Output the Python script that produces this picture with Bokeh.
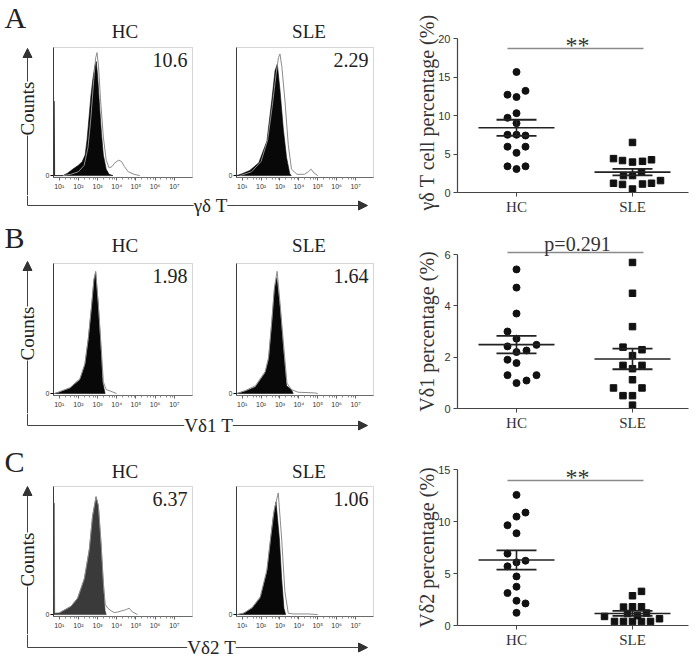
import numpy as np
from bokeh.plotting import figure
from bokeh.layouts import row, column
from bokeh.models import Range1d, Label, Arrow, NormalHead, FixedTicker, BoxAnnotation
from bokeh.embed import file_html
from bokeh.resources import INLINE

# ---------------- data ----------------
panel_letters = ["A", "B", "C"]
channel_names = ["γδ T", "Vδ1 T", "Vδ2 T"]
group_names = ["HC", "SLE"]
gate_percent = [["10.6", "2.29"], ["1.98", "1.64"], ["6.37", "1.06"]]
decade_exp = [1, 2, 3, 4, 5, 6, 7]
decade_labels = ["10¹", "10²", "10³", "10⁴", "10⁵", "10⁶", "10⁷"]

# flow histograms: x = log10 fluorescence, y = % of panel height
a_hc_fill_log = [0.70, 0.70, 0.74, 0.76, 1.2, 1.45, 1.7, 2.0, 2.2, 2.35, 2.45, 2.55, 2.65, 2.75, 2.85, 2.93, 3.0, 3.1, 3.2, 3.3, 3.45, 3.6, 3.8]
a_hc_fill_h = [0, 58, 58, 0, 0, 2, 5, 8, 11, 16, 28, 45, 62, 75, 85, 89, 78, 55, 33, 16, 5, 1, 0]
a_hc_line_log = [1.2, 1.6, 2.0, 2.3, 2.5, 2.65, 2.8, 2.9, 2.97, 3.05, 3.15, 3.3, 3.45, 3.6, 3.75, 3.9, 4.1, 4.25, 4.4, 4.6, 4.9, 5.2]
a_hc_line_h = [0, 1, 3, 8, 22, 45, 75, 92, 96, 85, 60, 30, 12, 6, 7, 10, 12, 11, 7, 3, 1, 0]

a_sle_fill_log = [0.72, 1.0, 1.4, 1.88, 2.31, 2.57, 2.74, 2.86, 3.0, 3.18, 3.35, 3.52, 3.6]
a_sle_fill_h = [0, 1.5, 4, 10, 27, 59, 82, 87, 67, 36, 14, 1.5, 0]
a_sle_line_log = [0.9, 1.5, 2.0, 2.35, 2.6, 2.8, 2.92, 3.0, 3.1, 3.26, 3.44, 3.61, 3.9, 4.3, 4.5, 4.65, 4.8, 5.0]
a_sle_line_h = [0, 3, 11, 28, 55, 80, 92, 95, 85, 59, 24, 5, 1, 1, 3, 5, 2, 0]

b_hc_fill_log = [0.75, 1.0, 1.56, 2.08, 2.34, 2.52, 2.69, 2.81, 2.9, 3.04, 3.16, 3.26, 3.39]
b_hc_fill_h = [0, 1, 4, 10.6, 22, 42, 67, 87, 93, 67, 37, 9, 0]
b_hc_line_log = [0.75, 1.56, 2.08, 2.34, 2.52, 2.69, 2.81, 2.9, 3.04, 3.18, 3.3, 3.45, 3.65, 3.99]
b_hc_line_h = [0, 4.5, 11.5, 23, 43, 68, 88, 94, 68, 37, 9, 3, 2, 0]

b_sle_fill_log = [0.72, 1.2, 1.7, 2.22, 2.4, 2.57, 2.71, 2.83, 3.0, 3.18, 3.35, 3.61, 3.7]
b_sle_fill_h = [0, 2, 5, 16, 26, 54, 80, 89, 67, 34, 6, 3, 0]
b_sle_line_log = [0.72, 1.2, 1.7, 2.22, 2.4, 2.57, 2.71, 2.85, 3.0, 3.2, 3.37, 3.61, 3.96, 4.83, 5.0]
b_sle_line_h = [0, 2.5, 6, 17, 28, 56, 82, 94, 70, 36, 8, 3, 1, 0.5, 0]

c_hc_fill_log = [0.70, 0.70, 0.74, 0.76, 1.0, 1.61, 1.96, 2.31, 2.57, 2.74, 2.92, 3.04, 3.18, 3.3, 3.39, 3.45]
c_hc_fill_h = [0, 87, 87, 1, 1.3, 6.4, 12.8, 28, 51, 77, 92, 85, 54, 23, 3, 0]
c_hc_line_log = [1.0, 1.61, 1.96, 2.31, 2.57, 2.74, 2.92, 3.04, 3.18, 3.3, 3.4, 3.53, 3.7, 3.87, 4.05, 4.23, 4.4, 4.5, 4.65, 4.82, 5.08]
c_hc_line_h = [1.3, 6.4, 12.8, 28, 51, 77, 92, 85, 56, 25, 8, 5, 3, 1.5, 2, 2.8, 3.5, 4, 5, 2, 0]

c_sle_fill_log = [0.75, 1.09, 1.53, 1.96, 2.31, 2.51, 2.65, 2.79, 2.97, 3.09, 3.21, 3.3]
c_sle_fill_h = [0, 1, 5, 13, 33, 59, 77, 88, 59, 28, 5, 0]
c_sle_line_log = [0.75, 1.09, 1.53, 1.96, 2.31, 2.51, 2.7, 2.91, 3.09, 3.26, 3.44, 3.7, 4.5, 5.0]
c_sle_line_h = [0, 1.2, 5.5, 14, 35, 60, 82, 95, 59, 18, 1, 0.5, 0.5, 0]

# dot plot values, %
a_hc_vals = [15.65, 13.2, 12.7, 12.4, 10.3, 9.7, 9.0, 7.5, 7.5, 7.4, 5.95, 5.95, 5.15, 3.4, 3.4, 3.05]
a_sle_vals = [6.5, 4.4, 4.15, 3.95, 4.05, 4.25, 2.65, 2.2, 2.2, 1.2, 1.05, 1.1, 1.2, 1.55, 0.45]
b_hc_vals = [5.42, 4.71, 3.7, 3.0, 2.72, 2.42, 2.48, 2.2, 2.26, 1.9, 1.77, 1.3, 1.3, 0.99, 1.09]
b_sle_vals = [5.69, 4.49, 3.19, 2.39, 2.29, 2.06, 1.68, 1.68, 1.55, 1.12, 0.8, 0.8, 0.5, 0.5, 0.13]
c_hc_vals = [12.56, 10.86, 10.47, 9.64, 8.87, 6.91, 6.07, 6.23, 5.69, 4.72, 3.73, 3.12, 2.38, 2.12, 1.22]
c_sle_vals = [3.28, 2.86, 1.77, 1.8, 1.8, 1.15, 0.95, 1.2, 0.87, 0.39, 0.39, 0.39, 0.39, 0.39, 0.65]

group_means = [[8.4, 2.65], [2.49, 1.93], [6.3, 1.16]]
group_sems = [[1.05, 0.43], [0.34, 0.40], [0.93, 0.24]]
y_max = [20, 6, 15]
y_ticks = [[0, 5, 10, 15, 20], [0, 2, 4, 6], [0, 5, 10, 15]]
y_titles = ["γδ T cell percentage (%)", "Vδ1 percentage (%)", "Vδ2 percentage (%)"]
sig_levels = [18.7, 6.08, 13.94]
sig_texts = ["**", "p=0.291", "**"]

# ---------------- layout / style ----------------
SERIF = "Liberation Serif"
SANS = "Liberation Sans"
ROW_H = [216, 223, 219]
BOX_TOP = 47
BOX_BOT = [177, 179, 177]
H_BOT = 18
ARROW_FROM_TOP = [205, 209, 208]
COUNTS_X = 27
ARROW_TIP_X = 367
COUNTS_TIP = [48, 45, 47]
COUNTS_MID = [108, 117, 120]
LETTER_TOP = [3, 7, 8]
TITLE_MID = [31, 29, 32]
XLABEL_X = [210, 208, 211]
HC_W, HC_BL, HC_BW = 228, 53, 139
SLE_W, SLE_BL, SLE_BW = 160, 8, 137
LO, HI = 0.7, 7.95
SC_W, SC_AX, SC_FW = 303, 69, 231
SC_ZERO = [192, 192, 186]
SC_TOP = [38, 38, 30]
YLAB_X = 38
YLAB_MID = [112, 115, 108]
PX_PER_CAT = 116.0
HC_CENTER_PX = 59.0

a_hc_dx = [0, 9, -9, 0, 0, -9, 0, -9, 0, 9, -9, 9, 0, -9, 9, 0]
a_sle_dx = [0, -19, -10, 0, 10, 19, 9, -9, 0, -19, -10, 10, 19, 28, 0]
b_hc_dx = [0, 0, 0, -9, 0, -9, 20, 0, 10, -9, 0, -9, 20, 0, 10]
b_sle_dx = [0, 0, 0, -9.5, 9.5, 0, -9.5, 9.5, 0, 0, -19, 9.5, -9.5, 0, 0]
c_hc_dx = [0, 9, 0, -9, 0, -9, 0, 9, -9, 0, 0, -9, 0, 9, 0]
c_sle_dx = [9, 0, -9, 0, 9, -5, 5, 14, -28, -18, -9, 0, 9, 18, 27]

hist_sets = [
    [(a_hc_fill_log, a_hc_fill_h, a_hc_line_log, a_hc_line_h, "#080808"),
     (a_sle_fill_log, a_sle_fill_h, a_sle_line_log, a_sle_line_h, "#080808")],
    [(b_hc_fill_log, b_hc_fill_h, b_hc_line_log, b_hc_line_h, "#080808"),
     (b_sle_fill_log, b_sle_fill_h, b_sle_line_log, b_sle_line_h, "#080808")],
    [(c_hc_fill_log, c_hc_fill_h, c_hc_line_log, c_hc_line_h, "#3a3a3a"),
     (c_sle_fill_log, c_sle_fill_h, c_sle_line_log, c_sle_line_h, "#080808")],
]
scatter_sets = [
    (a_hc_vals, a_hc_dx, a_sle_vals, a_sle_dx),
    (b_hc_vals, b_hc_dx, b_sle_vals, b_sle_dx),
    (c_hc_vals, c_hc_dx, c_sle_vals, c_sle_dx),
]


def base_fig(w, h, xr, yr, **kw):
    p = figure(width=w, height=h, x_range=xr, y_range=yr, title=None,
               output_backend="svg", toolbar_location=None,
               min_border=0, min_border_left=0, min_border_right=0,
               min_border_top=0, min_border_bottom=0, outline_line_color=None, **kw)
    p.grid.visible = False
    return p


def slabel(x, y, text, size, color="#222", **kw):
    return Label(x=x, y=y, x_units="screen", y_units="screen", text=text, text_font=SERIF,
                 text_font_size=size, text_color=color, **kw)


def style_axis(a, font, size, color="#333"):
    a.major_label_text_font = font
    a.major_label_text_font_size = size
    a.major_label_text_color = color
    a.major_tick_in = 0
    a.minor_tick_line_color = None


def hist_fig(k, j):
    fill_log, fill_h, line_log, line_h, fcol = hist_sets[k][j]
    w, bl, bw = (HC_W, HC_BL, HC_BW) if j == 0 else (SLE_W, SLE_BL, SLE_BW)
    br = w - bl - bw
    h = BOX_BOT[k] + H_BOT
    bh = BOX_BOT[k] - BOX_TOP
    ppd = bw / (HI - LO)
    ppy = bh / 101.5
    xr = Range1d(10 ** (LO - bl / ppd), 10 ** (HI + br / ppd))
    yr = Range1d(-1.5 - H_BOT / ppy, 100 + BOX_TOP / ppy)
    p = base_fig(w, h, xr, yr, x_axis_type="log")
    p.add_layout(BoxAnnotation(left=10 ** LO, right=10 ** HI, bottom=-1.5, top=100,
                               fill_color=None, line_color="#777", line_width=1))
    p.patch(np.power(10.0, fill_log), fill_h, fill_color=fcol, line_color=fcol, line_width=0.6)
    p.line(np.power(10.0, line_log), line_h, line_color="#8c8c8c", line_width=1)
    majors = [10.0 ** e for e in decade_exp]
    minors = [m * 10.0 ** e for e in decade_exp[:-1] for m in (2, 4, 6, 8)]
    ax = p.xaxis[0]
    ax.fixed_location = -1.5
    ax.bounds = (10 ** LO, 10 ** HI)
    ax.ticker = FixedTicker(ticks=majors, minor_ticks=minors)
    ax.major_label_overrides = {t: lab for t, lab in zip(majors, decade_labels)}
    style_axis(ax, SANS, "7px")
    ax.major_label_standoff = 2
    ax.major_tick_out = 3
    ax.minor_tick_out = 2
    ax.minor_tick_in = 0
    ax.minor_tick_line_color = "#888"
    ax.axis_line_color = "#666"
    ax.major_tick_line_color = "#666"
    ay = p.yaxis[0]
    ay.fixed_location = 10 ** LO
    ay.bounds = (-1.5, 100)
    ay.ticker = FixedTicker(ticks=[0])
    style_axis(ay, SANS, "7px")
    ay.major_label_standoff = 1
    ay.major_tick_out = 3
    ay.axis_line_color = "#222"
    # texts
    p.add_layout(slabel(bl + bw / 2 + (2 if j == 0 else 4), h - TITLE_MID[k], group_names[j], "19px",
                        text_align="center", text_baseline="middle"))
    p.add_layout(slabel(bl + bw - 5, h - BOX_TOP - 5, gate_percent[k][j], "20px",
                        text_align="right", text_baseline="top"))
    if j == 0:
        p.add_layout(Arrow(x_start=COUNTS_X, y_start=0, x_end=COUNTS_X, y_end=h - COUNTS_TIP[k],
                           start_units="screen", end_units="screen", line_color="#444", line_width=1,
                           end=NormalHead(size=9, fill_color="#333", line_color="#333")))
        p.add_layout(slabel(COUNTS_X, h - COUNTS_MID[k], "Counts", "19px", angle=np.pi / 2,
                            text_align="center", text_baseline="middle", background_fill_color="white"))
        p.add_layout(slabel(4, h - LETTER_TOP[k] + 3, panel_letters[k], "30px", text_baseline="top"))
    return p


def xarrow_fig(k):
    h = ROW_H[k] - BOX_BOT[k] - H_BOT
    w = HC_W + SLE_W
    p = base_fig(w, h, Range1d(0, 1), Range1d(0, 1), x_axis_location=None, y_axis_location=None)
    ya = ROW_H[k] - ARROW_FROM_TOP[k]
    p.add_layout(Arrow(x_start=COUNTS_X, y_start=h, x_end=COUNTS_X, y_end=ya, start_units="screen",
                       end_units="screen", line_color="#444", line_width=1, end=None))
    p.add_layout(Arrow(x_start=COUNTS_X, y_start=ya, x_end=ARROW_TIP_X, y_end=ya, start_units="screen",
                       end_units="screen", line_color="#444", line_width=1,
                       end=NormalHead(size=9, fill_color="#333", line_color="#333")))
    p.add_layout(slabel(XLABEL_X[k], ya, channel_names[k], "19px", text_align="center",
                        text_baseline="middle", background_fill_color="white"))
    return p


def scatter_fig(k):
    hc_vals, hc_dx, sle_vals, sle_dx = scatter_sets[k]
    h = ROW_H[k]
    ax0 = -HC_CENTER_PX / PX_PER_CAT
    xr = Range1d(ax0 - SC_AX / PX_PER_CAT, ax0 + (SC_W - SC_AX) / PX_PER_CAT)
    ppy = (SC_ZERO[k] - SC_TOP[k]) / float(y_max[k])
    yr = Range1d(-(h - SC_ZERO[k]) / ppy, y_max[k] + SC_TOP[k] / ppy)
    p = base_fig(SC_W, h, xr, yr)
    p.line([-9 / PX_PER_CAT, 127 / PX_PER_CAT], [sig_levels[k], sig_levels[k]],
           line_color="#8a8a8a", line_width=1.6)
    p.add_layout(Label(x=61 / PX_PER_CAT, y=sig_levels[k], y_offset=8 if k == 1 else 4,
                       text=sig_texts[k], text_align="center", text_baseline="alphabetic",
                       text_font=SERIF, text_font_size="20px" if k == 1 else "24px", text_color="#333"))
    p.scatter(x=np.array(hc_dx) / PX_PER_CAT, y=hc_vals, marker="circle", size=7,
              fill_color="#111", line_color="#111")
    p.scatter(x=1 + np.array(sle_dx) / PX_PER_CAT, y=sle_vals, marker="square", size=6.5,
              fill_color="#111", line_color="#111")
    cats = np.array([0.0, 1.0])
    m = np.array(group_means[k])
    s = np.array(group_sems[k])
    half_mean = 38 / PX_PER_CAT
    half_sem = 20 / PX_PER_CAT
    p.segment(cats - half_mean, m, cats + half_mean, m, line_color="#222", line_width=1.6)
    p.segment(cats - half_sem, m + s, cats + half_sem, m + s, line_color="#222", line_width=1.8)
    p.segment(cats - half_sem, m - s, cats + half_sem, m - s, line_color="#222", line_width=1.8)
    p.segment(cats, m - s, cats, m + s, line_color="#222", line_width=1.6)
    ay = p.yaxis[0]
    ay.fixed_location = ax0
    ay.bounds = (0, y_max[k])
    ay.ticker = FixedTicker(ticks=y_ticks[k])
    style_axis(ay, SANS, "11px")
    ay.major_label_standoff = 3
    ay.major_tick_out = 4
    ay.axis_line_color = "#444"
    ay.major_tick_line_color = "#444"
    ay.axis_line_width = 1.2
    ax = p.xaxis[0]
    ax.fixed_location = 0
    ax.bounds = (ax0, ax0 + SC_FW / PX_PER_CAT)
    ax.ticker = FixedTicker(ticks=[0, 1])
    ax.major_label_overrides = {0: group_names[0], 1: group_names[1]}
    style_axis(ax, SERIF, "15px")
    ax.major_label_standoff = 2
    ax.major_tick_out = 4
    ax.axis_line_color = "#444"
    ax.major_tick_line_color = "#444"
    ax.axis_line_width = 1.2
    p.add_layout(slabel(YLAB_X, h - YLAB_MID[k], y_titles[k], "20px", color="#333", angle=np.pi / 2,
                        text_align="center", text_baseline="middle"))
    return p


rows = []
for k in range(3):
    left = column(row(hist_fig(k, 0), hist_fig(k, 1)), xarrow_fig(k))
    rows.append(row(left, scatter_fig(k)))

page = column(*rows)
open("out.html", "w").write(file_html(page, INLINE))
